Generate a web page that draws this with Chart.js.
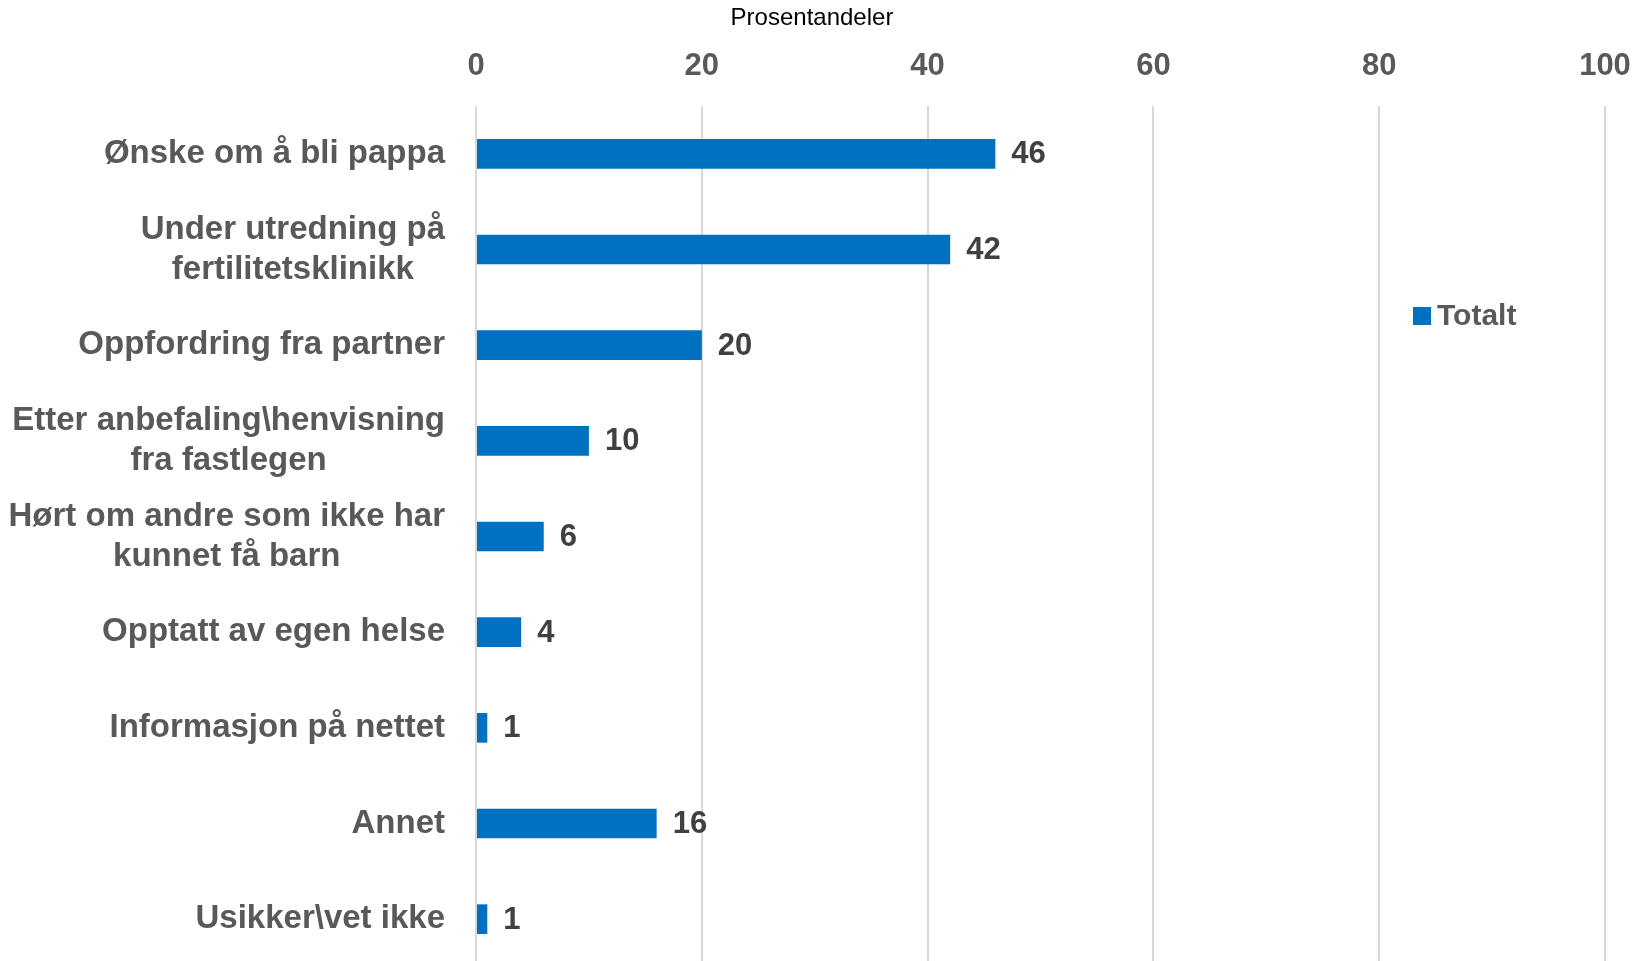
<!DOCTYPE html>
<html lang="no">
<head>
    <meta charset="UTF-8">
    <title>Prosentandeler</title>
    <script src="https://cdn.jsdelivr.net/npm/chart.js"></script>
    <style>
        body { margin: 0; background: #ffffff; }
        #wrap { width: 1642px; height: 961px; position: relative; }
    </style>
</head>
<body>
    <div id="wrap"><canvas id="chart"></canvas></div>
    <script>
        // Data
        const categories = [
            ['Ønske om å bli pappa'],
            ['Under utredning på', 'fertilitetsklinikk'],
            ['Oppfordring fra partner'],
            ['Etter anbefaling\\henvisning', 'fra fastlegen'],
            ['Hørt om andre som ikke har', 'kunnet få barn'],
            ['Opptatt av egen helse'],
            ['Informasjon på nettet'],
            ['Annet'],
            ['Usikker\\vet ikke']
        ];
        const values = [46, 42, 20, 10, 6, 4, 1, 16, 1];
        const seriesName = 'Totalt';
        const axisTitle = 'Prosentandeler';
        const xTicks = [0, 20, 40, 60, 80, 100];

        const barColor = '#0070C0';
        const labelFont = '"Liberation Sans", Arial, sans-serif';

        // the last category row runs a little past the bottom edge in the original
        const stretchPlugin = {
            id: 'stretch',
            afterLayout(chart) {
                const s = chart.scales.y;
                s.bottom = chart.height + 6;
                s.height = s.bottom - s.top;
                s.configure();
            }
        };

        // title, category labels (right aligned block, centered lines), value labels and legend
        const textPlugin = {
            id: 'textPlugin',
            afterDatasetsDraw(chart) {
                const ctx = chart.ctx;
                const yScale = chart.scales.y;
                const area = chart.chartArea;
                ctx.save();
                ctx.textBaseline = 'middle';

                ctx.font = '24px ' + labelFont;
                ctx.fillStyle = '#000000';
                ctx.textAlign = 'center';
                ctx.fillText(axisTitle, 812, 18);

                ctx.font = 'bold 33px ' + labelFont;
                ctx.fillStyle = '#595959';
                categories.forEach((lines, i) => {
                    const cy = yScale.getPixelForTick(i);
                    const w = Math.max(...lines.map(l => ctx.measureText(l).width));
                    const cx = area.left - 31 - w / 2;
                    lines.forEach((l, j) => {
                        ctx.fillText(l, cx, cy + (j - (lines.length - 1) / 2) * 40);
                    });
                });

                const meta = chart.getDatasetMeta(0);
                ctx.font = 'bold 31px ' + labelFont;
                ctx.fillStyle = '#404040';
                ctx.textAlign = 'left';
                meta.data.forEach((bar, i) => {
                    ctx.fillText(String(values[i]), bar.x + 16, bar.y + 1);
                });

                // legend
                ctx.fillStyle = barColor;
                ctx.fillRect(1413, 307, 18, 18);
                ctx.font = 'bold 30px ' + labelFont;
                ctx.fillStyle = '#595959';
                ctx.fillText(seriesName, 1437, 317);
                ctx.restore();
            }
        };

        new Chart(document.getElementById('chart'), {
            type: 'bar',
            data: {
                labels: categories,
                datasets: [{
                    label: seriesName,
                    data: values,
                    backgroundColor: barColor,
                    categoryPercentage: 1,
                    barPercentage: 0.31
                }]
            },
            options: {
                indexAxis: 'y',
                responsive: true,
                maintainAspectRatio: false,
                animation: false,
                layout: { padding: { left: 0, right: 0, top: 45, bottom: 0 } },
                plugins: {
                    legend: { display: false },
                    tooltip: { enabled: false },
                    title: { display: false }
                },
                scales: {
                    x: {
                        position: 'top',
                        min: 0,
                        max: 100,
                        afterBuildTicks: (scale) => {
                            scale.ticks = xTicks.map(v => ({ value: v }));
                        },
                        afterFit: (scale) => {
                            scale.height = 61;
                            scale.paddingLeft = 0;
                            scale.paddingRight = 37;
                        },
                        grid: { color: '#d9d9d9', lineWidth: 2, drawTicks: false },
                        border: { display: false },
                        ticks: {
                            color: '#595959',
                            padding: 21,
                            font: { family: labelFont, size: 31, weight: 'bold' }
                        }
                    },
                    y: {
                        grid: { display: false },
                        border: { display: false },
                        ticks: { display: false },
                        afterFit: (scale) => { scale.width = 476; }
                    }
                }
            },
            plugins: [stretchPlugin, textPlugin]
        });
    </script>
</body>
</html>
